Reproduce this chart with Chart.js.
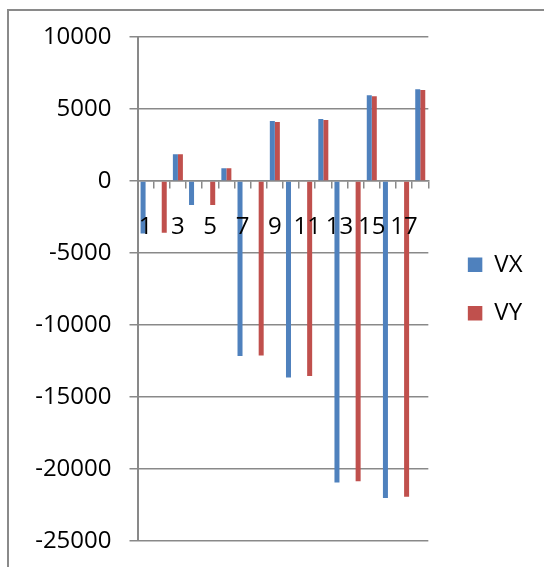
<!DOCTYPE html>
<html>
<head>
<meta charset="utf-8">
<script src="https://cdn.jsdelivr.net/npm/chart.js@4/dist/chart.umd.min.js"></script>
<style>
  html, body { margin: 0; padding: 0; width: 544px; height: 567px; overflow: hidden; background: #ffffff; }
  #frame { position: absolute; left: 7px; top: 9px; width: 700px; height: 700px;
           border-left: 2px solid #8a8a8a; border-top: 2px solid #8a8a8a; }
  #wrap { position: absolute; left: 0; top: 0; width: 544px; height: 567px; }
</style>
</head>
<body>
<div id="frame"></div>
<div id="wrap"><canvas id="chart" width="544" height="567"></canvas></div>
<script>
// Row numbers along the category axis
const categories = ['1','2','3','4','5','6','7','8','9','10','11','12','13','14','15','16','17','18'];

// Series values (blank cells left as null)
const vx = [-3650, null, 1860, -1670, null, 890, -12160, null, 4160, -13640, null, 4300, -20930, null, 5950, -22010, null, 6380];
const vy = [null, -3600, 1860, null, -1670, 890, null, -12110, 4100, null, -13540, 4230, null, -20850, 5890, null, -21920, 6320];

// Value-axis tick labels
const yTickValues = [-25000, -20000, -15000, -10000, -5000, 0, 5000, 10000];

const seriesNames = ['VX', 'VY'];
const seriesColors = ['#4F81BD', '#C0504D'];

const gridColor = '#898989';

Chart.defaults.font.family = "'Open Sans', 'Liberation Sans', sans-serif";
Chart.defaults.font.size = 24;
Chart.defaults.color = '#000000';

new Chart(document.getElementById('chart'), {
  type: 'bar',
  data: {
    labels: categories,
    datasets: [
      { label: seriesNames[0], data: vx, backgroundColor: seriesColors[0], borderWidth: 0,
        categoryPercentage: 0.62, barPercentage: 1.0 },
      { label: seriesNames[1], data: vy, backgroundColor: seriesColors[1], borderWidth: 0,
        categoryPercentage: 0.62, barPercentage: 1.0 }
    ]
  },
  options: {
    responsive: false,
    animation: false,
    layout: { padding: { top: 37, bottom: 26, left: 0, right: 12 } },
    plugins: {
      tooltip: { enabled: false },
      legend: {
        position: 'right',
        align: 'center',
        labels: { boxWidth: 14.5, boxHeight: 14.5, padding: 24.5, color: '#000000', font: { size: 24 } }
      }
    },
    scales: {
      x: {
        position: { y: 0 },
        offset: true,
        grid: { offset: true, drawOnChartArea: false, drawTicks: true, tickLength: 7, color: gridColor, lineWidth: 1.5 },
        border: { display: true, color: gridColor, width: 1.5 },
        ticks: {
          z: 1,
          autoSkip: false, maxRotation: 0, minRotation: 0, padding: 25, color: '#000000',
          callback: (value, index) => (index % 2 === 0 ? categories[index] : '')
        }
      },
      y: {
        min: yTickValues[0],
        max: yTickValues[yTickValues.length - 1],
        afterBuildTicks: (scale) => { scale.ticks = yTickValues.map(v => ({ value: v })); },
        afterFit: (scale) => {
          scale.width = 137.5;
          // the outer padding already leaves room for the end labels
          scale.paddingTop = 0;
          scale.paddingBottom = 0;
        },
        grid: { color: gridColor, lineWidth: 1.5, tickLength: 8, drawTicks: true },
        border: { color: gridColor, width: 2 },
        ticks: { padding: 18, color: '#000000', callback: (value) => String(value) }
      },
      // spacer between the plot and the legend
      gap: {
        type: 'linear',
        position: 'right',
        display: true,
        grid: { display: false },
        border: { display: false },
        ticks: { display: false },
        afterFit: (scale) => { scale.width = 15; }
      }
    }
  }
});
</script>
</body>
</html>
